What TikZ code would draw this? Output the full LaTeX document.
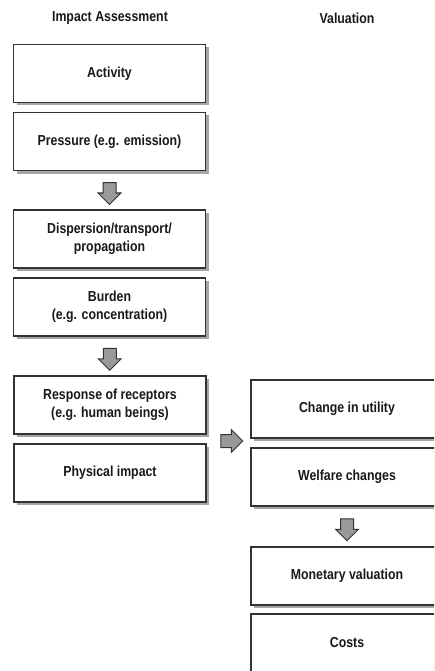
\documentclass[tikz,border=0pt]{standalone}
\usepackage{fontspec}
\setmainfont[FakeStretch=0.85]{Liberation Sans}
\usetikzlibrary{calc,shadows,shapes.arrows}
\tikzset{
  box/.style={draw=black!80, line width=1.2pt, fill=white, minimum width=192pt, minimum height=58pt,
    align=center, text=black!90, font=\bfseries\fontsize{14.5}{18}\selectfont,
    drop shadow={shadow xshift=3pt, shadow yshift=-3pt, fill=black!35, opacity=1}},
  title/.style={text=black!90, font=\bfseries\fontsize{14.5}{18}\selectfont},
  downarrow/.style={single arrow, draw=black!80, fill=black!40, line width=1pt, minimum height=22pt,
    single arrow head extend=5pt, inner sep=6pt, shape border rotate=270},
  rightarrow/.style={downarrow, shape border rotate=0}
}

\begin{document}
\begin{tikzpicture}[x=1pt, y=-1pt]
			%%%%% START %%%%%
			
			\useasboundingbox (0, 0) rectangle (434, 671);
			\clip (0, 0) rectangle (434, 671);
			
			\node[title] (impact) at (110, 18) {Impact Assessment};
			\node[title] (valuation) at (347, 18) {Valuation};
			
			\node[box] (activity) at (109.5, 73.5) {Activity};
			\node[box] (pressure) at (109.5, 141.5) {Pressure (e.g. emission)};
			\node[box] (dispersion) at (109.5, 239) {Dispersion/transport/\\propagation};
			\node[box] (burden) at (109.5, 307) {Burden\\(e.g. concentration)};
			\node[box] (response) at (110, 405) {Response of receptors\\(e.g. human beings)};
			\node[box] (physical) at (110, 473) {Physical impact};
			
			\node[box] (utility) at (347, 409) {Change in utility};
			\node[box] (welfare) at (347, 477) {Welfare changes};
			\node[box] (monetary) at (347, 576) {Monetary valuation};
			\node[box] (costs) at (347, 643) {Costs};
			
			\node[downarrow] (arrowa) at ($(pressure.south)!0.5!(dispersion.north)$) {};
			\node[downarrow] (arrowb) at ($(burden.south)!0.5!(response.north)$) {};
			\node[rightarrow] (arrowc) at ($(response.south east)!0.5!(welfare.north west)$) {};
			\node[downarrow] (arrowd) at ($(welfare.south)!0.5!(monetary.north)$) {};
			
			%%%%% END %%%%%
\end{tikzpicture}
\end{document}
